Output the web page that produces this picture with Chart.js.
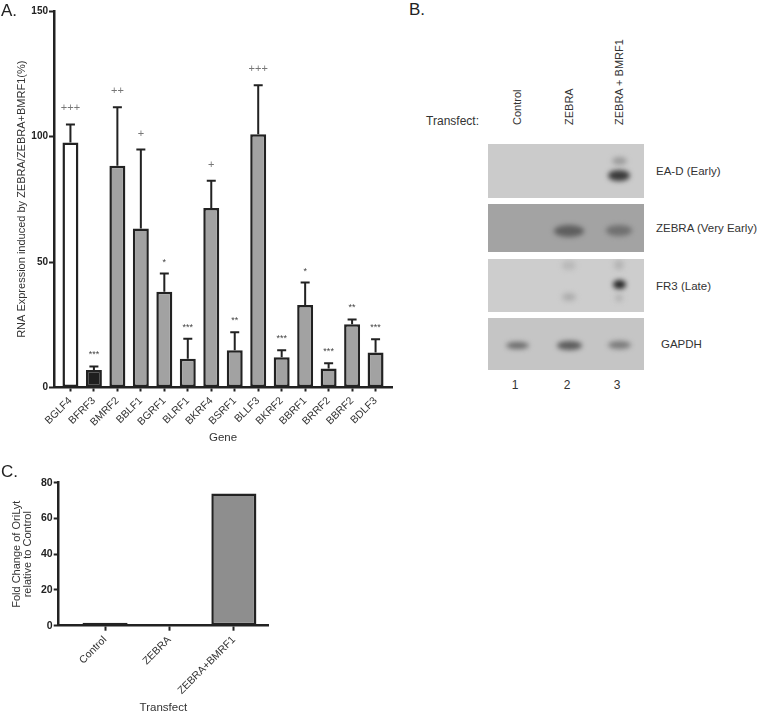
<!DOCTYPE html>
<html>
<head>
<meta charset="utf-8">
<script src="https://cdn.jsdelivr.net/npm/chart.js@4.4.1/dist/chart.umd.min.js"></script>
<style>
  body { margin: 0; background: #fff; width: 760px; height: 715px; position: relative; overflow: hidden;
         font-family: 'Liberation Sans', Arial, Helvetica, sans-serif; color: #333; }
  .abs { position: absolute; white-space: nowrap; }
  .letter { font-size: 17px; color: #222; line-height: 20px; }
  .lane { font-size: 11px; line-height: 13px; transform-origin: 0 0; transform: rotate(-90deg) translateY(-50%); }
  .probe { font-size: 11.5px; line-height: 14px; }
  .num { font-size: 12px; width: 20px; text-align: center; }
</style>
</head>
<body>

<canvas id="chartA" class="abs" width="400" height="445" style="left:0;top:0"></canvas>
<canvas id="chartC" class="abs" width="280" height="275" style="left:0;top:440px"></canvas>
<div class="abs letter" style="left:1px;top:1px">A.</div>
<div class="abs letter" style="left:1px;top:462px">C.</div>
<div class="abs letter" style="left:409px;top:0">B.</div>
<div class="abs" style="right:281px;top:114px;font-size:12px;line-height:15px">Transfect:</div>
<div id="blot"></div>

<script>
// --- panel A: RNA expression per gene ---
const genes = ['BGLF4', 'BFRF3', 'BMRF2', 'BBLF1', 'BGRF1', 'BLRF1', 'BKRF4',
               'BSRF1', 'BLLF3', 'BKRF2', 'BBRF1', 'BRRF2', 'BBRF2', 'BDLF3'];
const expression = [97.6, 7.0, 88.3, 63.3, 38.1, 11.5, 71.5, 14.8, 100.9, 12.1, 32.9, 7.6, 25.2, 13.9];
const expressionErr = [7.2, 1.4, 23.4, 31.5, 7.3, 7.9, 10.9, 7.2, 19.5, 2.7, 8.9, 2.1, 1.9, 5.3];
const signif = ['+++', '***', '++', '+', '*', '***', '+', '**', '+++', '***', '*', '***', '**', '***'];
const yTicksA = [0, 50, 100, 150];

// --- panel C: OriLyt fold change ---
const transfects = ['Control', 'ZEBRA', 'ZEBRA+BMRF1'];
const foldChange = [1.6, 1.0, 74.0];
const yTicksC = [0, 20, 40, 60, 80];

// --- panel B: blot lanes, probes and bands ---
const lanes = ['Control', 'ZEBRA', 'ZEBRA + BMRF1'];
const laneNumbers = ['1', '2', '3'];
const probes = ['EA-D (Early)', 'ZEBRA (Very Early)', 'FR3 (Late)', 'GAPDH'];
// [probe row, lane, relative height in strip, width, height, shade]
const bands = [
  [0, 2, 0.59, 22, 11, '#3a3a3a'],
  [0, 2, 0.31, 15, 8, '#9c9c9c'],
  [1, 1, 0.56, 30, 12, '#5e5e5e'],
  [1, 2, 0.56, 26, 11, '#707070'],
  [2, 2, 0.48, 13, 9, '#262626'],
  [2, 2, 0.11, 10, 10, '#b4b4b4'],
  [2, 1, 0.12, 14, 9, '#b8b8b8'],
  [2, 1, 0.72, 14, 8, '#adadad'],
  [2, 2, 0.73, 8, 8, '#b5b5b5'],
  [3, 0, 0.52, 23, 7, '#6a6a6a'],
  [3, 1, 0.52, 25, 9, '#5a5a5a'],
  [3, 2, 0.52, 23, 8, '#7a7a7a']
];

const fam = "'Liberation Sans', Arial, Helvetica, sans-serif";
const ink = '#222';

// blot drawing (plain DOM, it is a photo not a chart)
(function drawBlot() {
  const root = document.getElementById('blot');
  const blotLeft = 488, blotWidth = 156;
  const laneX = [29, 81, 131];
  const stripTop = [144, 204, 259, 318];
  const stripH = [54, 48, 53, 52];
  const stripBg = ['#cbcbcb', '#a3a3a3', '#cdcdcd', '#c5c5c5'];
  let html = '';
  lanes.forEach((l, i) => {
    html += `<div class="abs lane" style="left:${blotLeft + laneX[i]}px;top:125px">${l}</div>`;
    html += `<div class="abs num" style="left:${blotLeft + laneX[i] - 12}px;top:378px">${laneNumbers[i]}</div>`;
  });
  probes.forEach((p, r) => {
    html += `<div class="abs" style="left:${blotLeft}px;top:${stripTop[r]}px;width:${blotWidth}px;height:${stripH[r]}px;background:${stripBg[r]};overflow:hidden">`;
    bands.filter(b => b[0] === r).forEach(b => {
      const cx = laneX[b[1]], cy = b[2] * stripH[r];
      html += `<div class="abs" style="left:${cx - b[3] / 2}px;top:${cy - b[4] / 2}px;width:${b[3]}px;height:${b[4]}px;border-radius:50%;background:${b[5]};filter:blur(2.5px)"></div>`;
    });
    html += '</div>';
    const lx = r === 3 ? 661 : 656;
    html += `<div class="abs probe" style="left:${lx}px;top:${stripTop[r] + stripH[r] / 2 - 7}px">${p}</div>`;
  });
  root.innerHTML = html;
})();

// error bars + significance marks for panel A
const errorBars = {
  id: 'errorBars',
  afterDatasetsDraw(chart) {
    const ctx = chart.ctx;
    const y = chart.scales.y;
    chart.getDatasetMeta(0).data.forEach((bar, i) => {
      const top = y.getPixelForValue(expression[i] + expressionErr[i]);
      ctx.save();
      ctx.strokeStyle = ink;
      ctx.lineWidth = 2;
      ctx.beginPath();
      ctx.moveTo(bar.x, bar.y);
      ctx.lineTo(bar.x, top);
      ctx.moveTo(bar.x - 4.5, top);
      ctx.lineTo(bar.x + 4.5, top);
      ctx.stroke();
      const plus = signif[i].includes('+');
      ctx.fillStyle = plus ? '#777' : '#444';
      ctx.font = (plus ? '11px ' : '9px ') + fam;
      ctx.textAlign = 'center';
      ctx.textBaseline = 'alphabetic';
      ctx.fillText(signif[i], bar.x, top - (plus ? 13 : 9));
      ctx.restore();
    });
  }
};

new Chart(document.getElementById('chartA'), {
  type: 'bar',
  data: {
    datasets: [{
      data: genes.map((g, i) => ({ x: i, y: expression[i] })),
      backgroundColor: genes.map((g, i) => i === 0 ? '#ffffff' : i === 1 ? '#1e1e1e' : '#a2a2a2'),
      borderColor: ink,
      borderWidth: 2.5,
      borderSkipped: false,
      barPercentage: 0.68,
      categoryPercentage: 1
    }]
  },
  options: {
    responsive: false,
    animation: false,
    layout: { padding: { top: 11, right: 8, left: 0, bottom: 0 } },
    plugins: { legend: { display: false }, tooltip: { enabled: false } },
    scales: {
      x: {
        type: 'linear', min: -0.7, max: 13.7, offset: false,
        afterBuildTicks: s => { s.ticks = genes.map((g, i) => ({ value: i })); },
        afterFit: s => { s.height = 57.5; },
        ticks: { callback: v => genes[v], autoSkip: false, minRotation: 45, maxRotation: 45,
                 padding: 3, color: '#333', font: { family: fam, size: 10.5 } },
        grid: { offset: false, drawOnChartArea: false, tickLength: 4, tickWidth: 2, tickColor: ink },
        border: { color: ink, width: 2.5 },
        title: { display: true, text: 'Gene', color: '#333', font: { family: fam, size: 11.5 }, padding: 0 }
      },
      y: {
        min: 0, max: 150,
        afterBuildTicks: s => { s.ticks = yTicksA.map(v => ({ value: v })); },
        afterFit: s => { s.width = 54; },
        ticks: { padding: 1, color: ink, font: { family: fam, size: 10, weight: 'bold' } },
        grid: { drawOnChartArea: false, tickLength: 5, tickWidth: 2, tickColor: ink },
        border: { color: ink, width: 2.5 },
        title: { display: true, text: 'RNA Expression induced by ZEBRA/ZEBRA+BMRF1(%)', color: '#333',
                 font: { family: fam, size: 11 }, padding: { top: 15, bottom: 0 } }
      }
    }
  },
  plugins: [errorBars]
});

new Chart(document.getElementById('chartC'), {
  type: 'bar',
  data: {
    datasets: [{
      data: transfects.map((t, i) => ({ x: i, y: foldChange[i] })),
      backgroundColor: '#8e8e8e',
      borderColor: ink,
      borderWidth: 2.5,
      borderSkipped: false,
      barPercentage: 0.7,
      categoryPercentage: 1
    }]
  },
  options: {
    responsive: false,
    animation: false,
    layout: { padding: { top: 42.7, right: 12, left: 0, bottom: 0 } },
    plugins: { legend: { display: false }, tooltip: { enabled: false } },
    scales: {
      x: {
        type: 'linear', min: -0.72, max: 2.53, offset: false,
        afterBuildTicks: s => { s.ticks = transfects.map((t, i) => ({ value: i })); },
        afterFit: s => { s.height = 89.3; },
        ticks: { callback: v => transfects[v], autoSkip: false, minRotation: 45, maxRotation: 45,
                 padding: 3, color: '#333', font: { family: fam, size: 10.5 } },
        grid: { offset: false, drawOnChartArea: false, tickLength: 5, tickWidth: 2, tickColor: ink },
        border: { color: ink, width: 2.5 },
        title: { display: true, text: 'Transfect', color: '#333', font: { family: fam, size: 11.5 }, padding: 0 }
      },
      y: {
        min: 0, max: 80,
        afterBuildTicks: s => { s.ticks = yTicksC.map(v => ({ value: v })); },
        afterFit: s => { s.width = 58.7; },
        ticks: { padding: 1, color: ink, font: { family: fam, size: 10.5, weight: 'bold' } },
        grid: { drawOnChartArea: false, tickLength: 5, tickWidth: 2, tickColor: ink },
        border: { color: ink, width: 2.5 },
        title: { display: true, text: ['Fold Change of OriLyt', 'relative to Control'], color: '#333',
                 font: { family: fam, size: 11, lineHeight: 1.05 }, padding: { top: 11, bottom: 0 } }
      }
    }
  }
});
</script>
</body>
</html>
